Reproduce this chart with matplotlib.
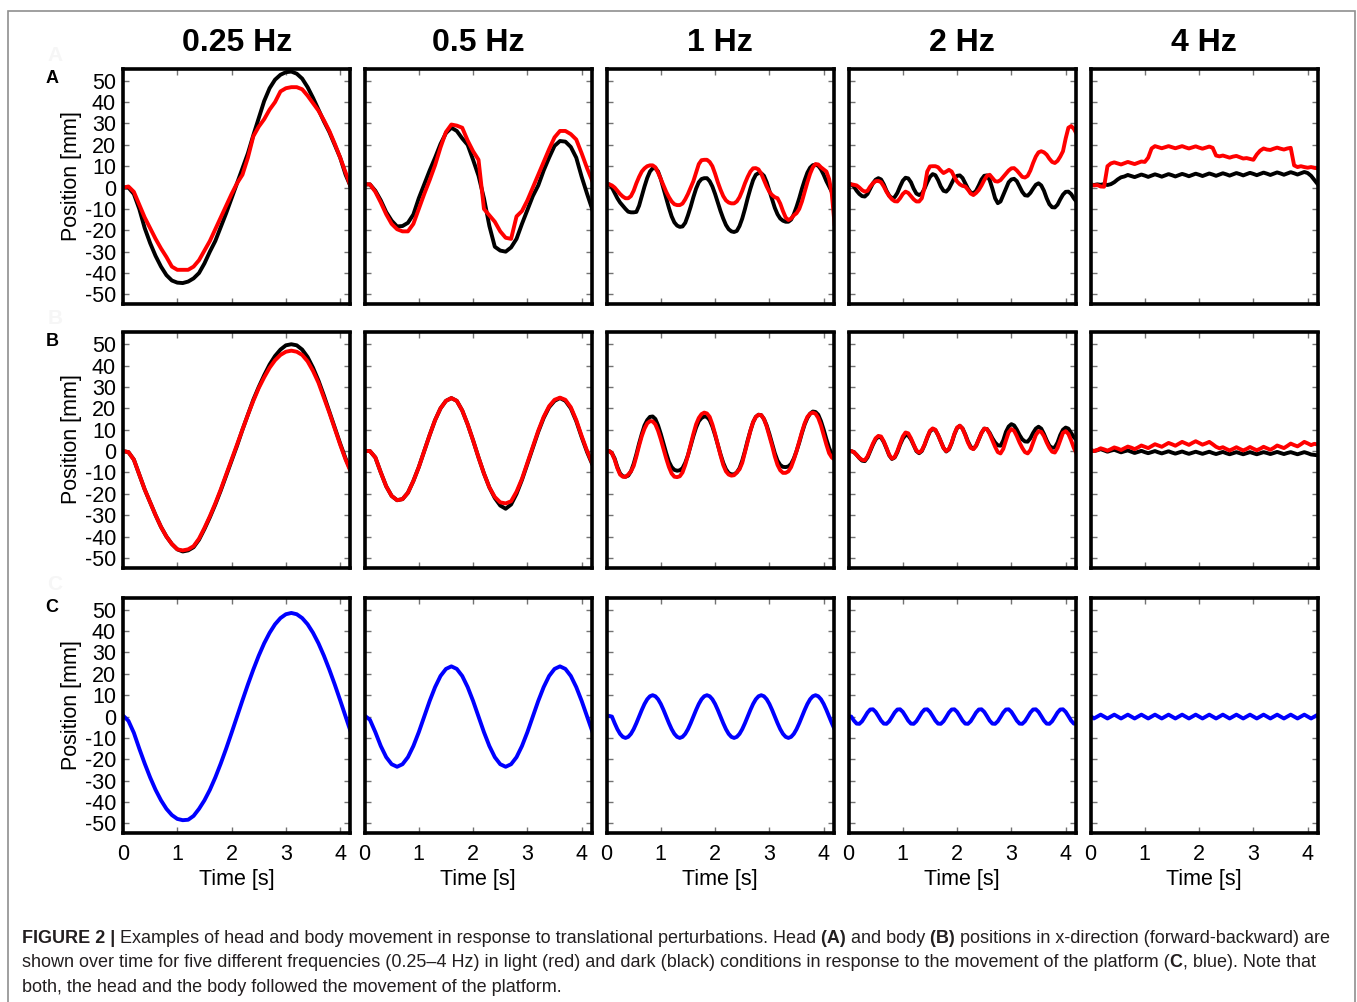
import numpy as np
import matplotlib
matplotlib.use("Agg")
import matplotlib.pyplot as plt
from matplotlib.patches import Rectangle

plt.rcParams["font.family"] = ["Liberation Sans", "DejaVu Sans"]
plt.rcParams["axes.unicode_minus"] = False

freq_labels = ["0.25 Hz", "0.5 Hz", "1 Hz", "2 Hz", "4 Hz"]
row_labels = ["A", "B", "C"]
# seconds between the samples
sample_step = [0.1, 0.1, 0.05, 0.05, 0.0625]

# ---- 0.25 Hz ----
a1_black = [0, 0, -3, -10, -19, -26, -32, -37, -41, -43.5, -44.5, -44.7, -44, -42.5, -40,
            -35.5, -30, -25, -18.5, -12, -5, 2, 9, 16, 24.5, 32.5, 40.5, 46.5, 50.5, 52.8,
            54, 54.3, 53.3, 51, 47, 42, 36.5, 31, 26, 20, 14, 6, 0]
a1_red = [0, 0.5, -2, -8, -14, -19, -24, -28.5, -32.5, -37, -38.5, -38.5, -38.5, -37, -34,
          -29.5, -25, -19.5, -14, -8.5, -3, 2, 6, 14, 24, 28.5, 32, 36.5, 40, 45,
          46.5, 47, 47, 46, 43, 39.5, 36, 31.5, 26.5, 20.5, 14, 7, 0]
b1_black = [0, -0.5, -4, -11, -18, -24, -30, -35.5, -40, -43.5, -46, -47, -46.5, -45, -41.5,
            -36.5, -31, -25, -18.5, -11.5, -4.5, 2.5, 10, 17, 24, 30, 35.5, 40.5, 44.5, 47.5,
            49.5, 50, 49.5, 47.5, 44, 39, 33, 26, 18.5, 11, 3.5, -3.5, -9.5]
b1_red = [0, -0.5, -4, -11, -18, -24, -30, -35.5, -40, -43.5, -46, -46.5, -46, -44.5, -41,
          -36, -30.5, -24.5, -18, -11, -4, 3, 10, 17, 23.5, 29.5, 34.5, 39, 42.5, 45,
          46.5, 47, 46.5, 45, 42, 37.5, 32, 25, 18, 10.5, 3, -4, -10]
c1_blue = [0.5, -2, -7.6, -15, -22, -28.5, -34.3, -39.2, -43.2, -46.1, -47.9, -48.5, -48.3,
           -46.5, -43.2, -39.2, -34.3, -28.5, -22, -15, -7.6, 0, 7.6, 15, 22, 28.5, 34.3,
           39.2, 43.2, 46.1, 47.9, 48.5, 47.9, 46.1, 43.2, 39.2, 34.3, 28.5, 22, 15, 7.6, 0, -7.6]

# ---- 0.5 Hz ----
a2_black = [1.5, 1.5, -1.5, -6, -11.5, -15.5, -18.2, -18, -16.5, -12.6, -5, 1.5, 8, 14, 20.4,
            25.5, 28, 26.5, 23, 20, 13, 5.5, -5, -18, -27.7, -29.5, -30, -28, -24, -17,
            -10.5, -4, 1, 8, 14, 19.5, 21.8, 21.5, 19, 14, 5, -3, -10.6]
a2_red = [1.5, 1.5, -2, -7, -12.5, -17, -19.5, -20.5, -20.5, -17, -10, -3, 3.5, 10.5, 18.8,
          26, 29.5, 29, 28, 22, 17, 13, -10, -13, -16, -20.5, -23.5, -24, -13.5, -11,
          -6, 0, 6, 12, 18, 23.5, 26.5, 26.5, 25, 22.5, 16, 9, 2.8]
b2_black = [0, 0, -3, -10, -16.5, -21, -23, -22.5, -19.5, -14, -7.5, 0, 7.5, 14.5, 20,
            23.5, 24.8, 23.5, 19, 12.5, 5, -3, -10.5, -17, -22, -25.5, -27, -25, -20, -13.5,
            -6, 1.5, 9, 15.5, 20.5, 23.5, 24.8, 23.5, 20, 14, 6.5, -0.5, -6.5]
b2_red = [0, 0, -3, -10, -16.5, -21, -23, -22.5, -19.5, -14, -7.5, 0, 7.5, 14.5, 20,
          23.5, 24.8, 23.5, 19, 12.5, 5, -3, -10.5, -17, -21.5, -24, -24.5, -23.5, -19, -13,
          -5.5, 2, 9.5, 16, 21, 24, 25, 24, 20.5, 14.5, 7, 0, -6]
c2_blue = [0.5, -1.5, -7.3, -13.8, -19, -22.3, -23.5, -22.3, -19, -13.8, -7.3, 0, 7.3, 13.8, 19,
           22.3, 23.5, 22.3, 19, 13.8, 7.3, 0, -7.3, -13.8, -19, -22.3, -23.5, -22.3, -19, -13.8,
           -7.3, 0, 7.3, 13.8, 19, 22.3, 23.5, 22.3, 19, 13.8, 7.3, 0, -7.3]

# ---- 1 Hz ----
a3_black = [1.5, 1.5, 0, -2.5, -5, -7, -8.5, -10, -11.3, -11.6,
            -11.6, -11.4, -8.5, -4, 0.5, 4.5, 7.5, 9, 9.1, 7.5,
            4, -0.5, -5, -9.5, -13.5, -16.3, -17.8, -18.4, -18.2, -16.5,
            -13, -9, -4.5, -0.5, 2.5, 4, 4.4, 4.4, 3, 0.5,
            -3, -7, -11, -14.5, -17.5, -19.5, -20.5, -20.8, -20.3, -18,
            -14.5, -10, -5, -0.5, 3.5, 6, 6.8, 6.7, 5.5, 2.5,
            -1.5, -5.5, -9.5, -12.5, -14.5, -15.5, -16, -16, -15, -12.5,
            -9, -5, -0.5, 3.5, 7, 9.3, 10.5, 10.7, 10.2, 8.5,
            6, 3, 0.5, -2, -4]
a3_red = [1.5, 1.5, 1, 0, -1.5, -3, -4.2, -5, -5, -4,
          -1.5, 2, 5, 7.5, 9, 10, 10.4, 10.4, 9.5, 7,
          4, 1, -2, -4.5, -6.5, -7.8, -8.2, -8.2, -7.5, -5.5,
          -3, 0, 3, 7, 11, 12.8, 13, 13, 12, 10,
          6.5, 2.5, -1, -4, -6, -7, -7.4, -7.4, -6.5, -4.5,
          -1.5, 2, 5, 7.5, 9, 9.1, 8.5, 6.5, 3.5, 0.5,
          -2, -3.5, -4.5, -5, -7.5, -11, -14, -15.2, -14.5, -13,
          -12, -10, -6.5, -2, 2.5, 6.5, 9.5, 11, 10.8, 9.5,
          8.5, 7.5, 4, -3, -17]
b3_black = [0, 0, -1, -3.5, -7.5, -10.5, -11.8, -12, -11.5, -9.5,
            -6, -1.5, 3.5, 8, 12, 14.5, 16, 16.2, 15, 12,
            8, 3.5, -1, -5, -7.5, -8.8, -9.2, -9, -8, -5.5,
            -2, 2.5, 7, 11, 14, 15.5, 16.2, 16, 14.5, 11.5,
            7.5, 3, -1.5, -5.5, -8.5, -10.3, -10.9, -10.9, -10, -8,
            -4.5, 0, 5, 9.5, 13.5, 16, 17, 16.8, 15, 12,
            8, 3.5, -1, -4.5, -6.5, -7.4, -7.5, -7.2, -6, -3.5,
            0, 4, 8.5, 12.5, 15.5, 17.5, 18.5, 18.3, 17, 14,
            10, 5.5, 1.5, -1.5, -3.5]
b3_red = [0, 0, -1, -4, -8, -11, -12, -12.1, -11, -9.5,
          -7, -2.5, 2.5, 7, 10.5, 13, 14, 13.9, 12.5, 9.5,
          5.5, 1, -3.5, -7.5, -10.5, -12, -12.2, -11.8, -10, -6.5,
          -2, 3, 8, 12.5, 15.5, 17.3, 18, 17.6, 16, 12.5,
          8, 3, -2, -6.5, -9.5, -11, -11.5, -11.3, -10, -8.5,
          -5.5, -0.5, 4.5, 9.5, 13.5, 16, 17, 16.8, 15, 11.5,
          7, 2.5, -2.5, -6.5, -9, -10.2, -10.2, -9.5, -7.5, -4,
          0, 4.5, 9, 13, 16, 17.5, 18, 17.5, 15.5, 12,
          7.5, 3, -1, -3, -4]
c3_blue = [0.5, 0.3,
           0, -3.1, -5.9, -8.1, -9.5, -10, -9.5, -8.1, -5.9, -3.1,
           0, 3.1, 5.9, 8.1, 9.5, 10, 9.5, 8.1, 5.9, 3.1,
           0, -3.1, -5.9, -8.1, -9.5, -10, -9.5, -8.1, -5.9, -3.1,
           0, 3.1, 5.9, 8.1, 9.5, 10, 9.5, 8.1, 5.9, 3.1,
           0, -3.1, -5.9, -8.1, -9.5, -10, -9.5, -8.1, -5.9, -3.1,
           0, 3.1, 5.9, 8.1, 9.5, 10, 9.5, 8.1, 5.9, 3.1,
           0, -3.1, -5.9, -8.1, -9.5, -10, -9.5, -8.1, -5.9, -3.1,
           0, 3.1, 5.9, 8.1, 9.5, 10, 9.5, 8.1, 5.9, 3.1,
           0, -3.1, -5.9]

# ---- 2 Hz ----
a4_black = [1.5, 1.5, 0.5, -1.5, -3, -4, -4.2, -3, -0.5, 2,
            3.7, 4.4, 3.8, 1.5, -1.5, -3.8, -5, -4.5, -2.5, 0.5,
            3.2, 4.6, 4.3, 2.5, -0.5, -2.8, -3.5, -2.8, -0.5, 2.5,
            5, 6.3, 5.8, 3.5, 0.5, -1.5, -1.9, -0.5, 2, 4.5,
            5.5, 5.7, 4.5, 2, -0.5, -2.3, -2.7, -1.5, 1, 3.8,
            5.5, 5.7, 3.5, -0.5, -5, -7.3, -6.5, -3.5, -0.5, 2.5,
            3.8, 4.1, 3, 0.5, -2, -3.6, -3.8, -2.5, -0.5, 1.3,
            2, 1, -1.5, -5, -7.8, -9.2, -9.3, -8, -5.5, -3.3,
            -2, -1.9, -3, -5, -6.6]
a4_red = [1.5, 1.5, 1.3, 1, 0, -1.2, -1.9, -1.5, 0.5, 2,
          3, 3.1, 2.5, 0.5, -2, -4, -5.5, -6.4, -6.5, -5,
          -3, -1.9, -2.5, -4, -5.5, -6.5, -6.5, -5, 0, 7.5,
          9.9, 10, 10, 9.5, 8, 6.8, 7.5, 8.3, 7.5, 5,
          2.8, 1.5, 0.8, 0.5, -1, -2.8, -3.5, -2.5, -1.1, 1,
          3.5, 5.5, 6, 4.5, 3, 2.8, 3.5, 5, 6.5, 8,
          9, 9.1, 8, 6.5, 5, 4.7, 5.5, 8, 11.5, 14.5,
          16.5, 17, 16.5, 15.4, 13.5, 12, 11.5, 12.5, 14.5, 17,
          23, 28, 28.8, 27.5, 25.2]
b4_black = [0, 0, -0.5, -1.8, -3.3, -4.5, -4.7, -3, 0, 3,
            5.5, 6.7, 6.3, 4.2, 1.2, -2, -3.7, -3, -0.5, 3,
            5.8, 7.5, 7.3, 5.5, 2.8, 0, -1, 0, 2.8, 6.2,
            9.2, 10.3, 9.8, 7.5, 4.5, 1.5, -0.2, 0.8, 3.8, 7.8,
            10.8, 11.8, 10.6, 7.8, 4.5, 2, 1, 2.5, 5.5, 8.5,
            10.5, 10.3, 8.5, 6, 4, 2.7, 2.5, 5, 9, 11.5,
            12.6, 12, 10, 7.5, 5.5, 4.5, 4.4, 6, 8.5, 10.5,
            11.4, 10.5, 8, 5, 2.5, 1.5, 1.7, 4, 7.5, 10,
            11, 10.5, 8.5, 6.5, 5.2]
b4_red = [0, 0, -0.5, -1.8, -3.2, -4.1, -4.3, -2.5, 0.5, 3.5,
          6, 7.1, 6.8, 4.5, 1.5, -1.8, -3.5, -2.8, 0, 3.5,
          6.8, 8.7, 8.3, 6, 3, 0.3, -0.7, 0.3, 3, 6.5,
          9.5, 10.6, 10, 7.5, 4.5, 1.5, 0, 1, 4, 8,
          11, 11.9, 10.5, 7.5, 4, 1.5, 0.9, 2.5, 5.5, 8.5,
          10.5, 10.3, 8, 5, 2, -0.5, -1.1, 1, 5, 8.8,
          10.3, 9.5, 7, 4, 1.5, -0.5, -1.1, 0.5, 4, 7.5,
          9.3, 9, 7, 4, 1.5, -0.3, -0.7, 1.5, 5, 8.5,
          9.3, 8, 5, 1.5, -1.1]
c4_blue = [0, 0,
           -1.9, -3.3, -3.4, -2.2, -0.2, 1.9, 3.3, 3.4, 2.2, 0.2,
           -1.9, -3.3, -3.4, -2.2, -0.2, 1.9, 3.3, 3.4, 2.2, 0.2,
           -1.9, -3.3, -3.4, -2.2, -0.2, 1.9, 3.3, 3.4, 2.2, 0.2,
           -1.9, -3.3, -3.4, -2.2, -0.2, 1.9, 3.3, 3.4, 2.2, 0.2,
           -1.9, -3.3, -3.4, -2.2, -0.2, 1.9, 3.3, 3.4, 2.2, 0.2,
           -1.9, -3.3, -3.4, -2.2, -0.2, 1.9, 3.3, 3.4, 2.2, 0.2,
           -1.9, -3.3, -3.4, -2.2, -0.2, 1.9, 3.3, 3.4, 2.2, 0.2,
           -1.9, -3.3, -3.4, -2.2, -0.2, 1.9, 3.3, 3.4, 2.2, 0.2,
           -1.9, -3.3, -3.4]

# ---- 4 Hz ----
a5_black = [1.5, 1.2, 1.5, 1.3, 1.6, 1.2, 1.6, 2.5, 3.8, 4.8,
            5.2, 5.9, 5.4, 4.9, 5.5, 6.1, 5.6, 5.0, 5.6, 6.2,
            5.7, 5.1, 5.7, 6.3, 5.8, 5.2, 5.8, 6.4, 5.9, 5.3,
            5.9, 6.5, 6.0, 5.4, 6.0, 6.6, 6.1, 5.5, 6.1, 6.7,
            6.2, 5.6, 6.2, 6.8, 6.3, 5.7, 6.3, 6.9, 6.4, 5.8,
            6.4, 7.0, 6.5, 5.9, 6.5, 7.1, 6.6, 6.0, 6.6, 7.2,
            6.7, 6.1, 6.7, 7.3, 6.8, 5.5, 3.5, 1.5]
a5_red = [1.5, 1.0, 1.2, 0.5, 0.4, 10.0, 11.3, 11.8, 11.3, 10.8,
          11.4, 12.0, 11.5, 11.0, 11.6, 12.2, 12.0, 14.0, 18.3, 19.4,
          18.9, 18.4, 18.9, 19.4, 18.9, 18.4, 18.9, 19.4, 18.8, 18.3,
          18.8, 19.3, 18.7, 18.2, 18.7, 19.2, 18.6, 15.0, 14.6, 15.0,
          14.5, 14.0, 14.5, 14.8, 14.2, 13.6, 13.8, 13.4, 13.0, 15.5,
          17.3, 18.3, 17.8, 17.6, 18.2, 18.7, 18.2, 17.8, 18.3, 18.6,
          10.4, 9.6, 10.0, 9.6, 9.3, 9.6, 9.2, 9.0]
b5_black = [0.5, 0.0, 0.4, 0.9, 0.3, -0.3, 0.2, 0.6, 0.0, -0.6,
            -0.1, 0.3, -0.3, -0.9, -0.4, 0.1, -0.5, -1.0, -0.5, 0.0,
            -0.6, -1.1, -0.6, -0.1, -0.7, -1.2, -0.7, -0.2, -0.8, -1.3,
            -0.8, -0.3, -0.8, -1.3, -0.8, -0.3, -0.9, -1.4, -0.9, -0.4,
            -1.0, -1.5, -1.0, -0.5, -1.0, -1.5, -1.0, -0.5, -1.0, -1.5,
            -1.0, -0.5, -0.9, -1.4, -0.9, -0.4, -0.9, -1.4, -0.9, -0.5,
            -1.0, -1.5, -1.0, -0.5, -1.0, -1.6, -1.8, -2.0]
b5_red = [0.5, 0.0, 0.5, 1.3, 0.8, 0.2, 0.9, 1.7, 1.2, 0.5,
          1.3, 2.1, 1.6, 0.9, 1.7, 2.6, 2.0, 1.4, 2.3, 3.2,
          2.6, 2.0, 2.9, 3.8, 3.2, 2.5, 3.4, 4.3, 3.6, 2.9,
          3.8, 4.6, 3.8, 3.0, 3.6, 4.3, 3.2, 2.0, 1.3, 1.8,
          1.0, 0.3, 1.0, 1.8, 1.0, 0.3, 1.0, 1.9, 1.1, 0.4,
          1.1, 2.0, 1.3, 0.6, 1.5, 2.6, 2.0, 1.4, 2.4, 3.5,
          2.8, 2.2, 3.2, 4.3, 3.6, 2.8, 3.4, 3.0]
c5_blue = [0.3,
           -0.9, 0, 0.9, 0, -0.9, 0, 0.9, 0, -0.9, 0, 0.9, 0, -0.9, 0, 0.9, 0,
           -0.9, 0, 0.9, 0, -0.9, 0, 0.9, 0, -0.9, 0, 0.9, 0, -0.9, 0, 0.9, 0,
           -0.9, 0, 0.9, 0, -0.9, 0, 0.9, 0, -0.9, 0, 0.9, 0, -0.9, 0, 0.9, 0,
           -0.9, 0, 0.9, 0, -0.9, 0, 0.9, 0, -0.9, 0, 0.9, 0, -0.9, 0, 0.9, 0,
           -0.9, 0, 0.9]

head = [(a1_black, a1_red), (a2_black, a2_red), (a3_black, a3_red),
        (a4_black, a4_red), (a5_black, a5_red)]
body = [(b1_black, b1_red), (b2_black, b2_red), (b3_black, b3_red),
        (b4_black, b4_red), (b5_black, b5_red)]
platform = [c1_blue, c2_blue, c3_blue, c4_blue, c5_blue]

# layout in pixels of the 1357x1002 picture
W, H = 1357, 1002
col_left = [123, 364.5, 606.5, 848.5, 1090.5]
row_top = [69, 332.5, 598]
ax_w, ax_h = 227.5, 235

fig = plt.figure(figsize=(W / 100, H / 100), dpi=100)

for r in range(3):
    for c in range(5):
        ax = fig.add_axes([col_left[c] / W, 1 - (row_top[r] + ax_h) / H, ax_w / W, ax_h / H])
        if r < 2:
            dark, light = head[c] if r == 0 else body[c]
            for y, colr in [(dark, "black"), (light, "#ff0000")]:
                t = np.arange(len(y)) * sample_step[c]
                ax.plot(t, y, color=colr, lw=2.8, solid_joinstyle="round")
        else:
            y = platform[c]
            t = np.arange(len(y)) * sample_step[c]
            ax.plot(t, y, color="#0000ff", lw=2.8, solid_joinstyle="round")

        ax.set_xlim(0, 4.19)
        ax.set_ylim(-54.5, 55.5)
        ax.set_xticks([0, 1, 2, 3, 4])
        ax.set_yticks(range(-50, 51, 10))
        for sp in ax.spines.values():
            sp.set_linewidth(2.6)
        ax.tick_params(direction="in", top=True, right=True, length=4, width=1,
                       color="0.45", labelsize=15.5, labelleft=(c == 0),
                       labelbottom=(r == 2))
        ax.tick_params(axis="x", pad=8)
        ax.tick_params(axis="y", pad=5)
        if r == 2:
            ax.set_xlabel("Time [s]", fontsize=15.5, labelpad=3)

# column titles
for c in range(5):
    fig.text((col_left[c] + ax_w / 2) / W, 1 - 43 / H, freq_labels[c],
             fontsize=23, fontweight="bold", ha="center", va="center")

# row letters (with their faint ghost copies) and y labels
for r in range(3):
    fig.text(55 / W, 1 - (row_top[r] - 8) / H, row_labels[r], fontsize=15,
             fontweight="bold", color="#f6f6f6", ha="center", va="baseline")
    fig.text(52 / W, 1 - (row_top[r] + 9) / H, row_labels[r], fontsize=13,
             fontweight="bold", ha="center", va="center")
    fig.text(71 / W, 1 - (row_top[r] + 107) / H, "Position [mm]", fontsize=15.5,
             rotation=90, ha="center", va="center")

# gray frame around the figure
fig.patches.append(Rectangle((7.5 / W, -0.01), (1355 - 7.5) / W, 1.01 - 10.5 / H,
                             transform=fig.transFigure, fill=False,
                             edgecolor="#8f8f8f", lw=1.2))

# caption, with bold parts
renderer = fig.canvas.get_renderer()
cap_color = "#231f20"


def caption_line(y_px, parts):
    x = 22
    for txt, bold in parts:
        tx = fig.text(x / W, 1 - y_px / H, txt, fontsize=13, color=cap_color,
                      fontweight="bold" if bold else "normal", ha="left", va="baseline")
        x += tx.get_window_extent(renderer=renderer).width


caption_line(943, [("FIGURE 2 |", True),
                   (" Examples of head and body movement in response to translational "
                    "perturbations. Head", False),
                   (" (A)", True), (" and body", False), (" (B)", True),
                   (" positions in x-direction (forward-backward) are", False)])
caption_line(967, [("shown over time for five different frequencies (0.25\u20134 Hz) in light "
                    "(red) and dark (black) conditions in response to the movement of the "
                    "platform (", False),
                   ("C", True), (", blue). Note that", False)])
caption_line(992, [("both, the head and the body followed the movement of the platform.", False)])

fig.savefig("out.png", dpi=100)
